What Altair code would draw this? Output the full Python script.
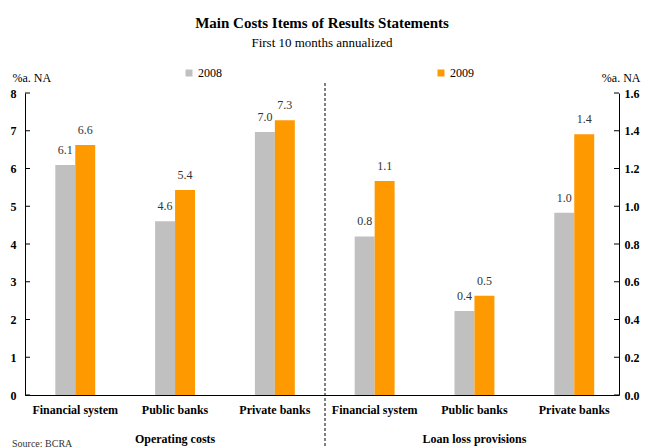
import altair as alt
import pandas as pd

# ---- data ----
categories = ["Financial system", "Public banks", "Private banks"]
groups = ["Operating costs", "Loan loss provisions"]
years = ["2008", "2009"]
op_2008 = [6.09, 4.60, 6.97]
op_2009 = [6.62, 5.43, 7.28]
llp_2008 = [0.84, 0.445, 0.966]
llp_2009 = [1.134, 0.526, 1.381]
left_ticks = [0, 1, 2, 3, 4, 5, 6, 7, 8]
right_ticks = [0.0, 0.2, 0.4, 0.6, 0.8, 1.0, 1.2, 1.4, 1.6]
colors = ["#C0C0C0", "#FF9900"]
y_unit = "%a. NA"
title_text = "Main Costs Items of Results Statements"
subtitle_text = "First 10 months annualized"
source_text = "Source: BCRA"

W, H = 594, 302
FONT = "Liberation Serif"

rows = []
for g, s08, s09 in [(groups[0], op_2008, op_2009), (groups[1], llp_2008, llp_2009)]:
    for c, a, b in zip(categories, s08, s09):
        key = f"{g}|{c}"
        rows.append({"group": g, "key": key, "year": years[0], "value": a})
        rows.append({"group": g, "key": key, "year": years[1], "value": b})
df = pd.DataFrame(rows)
keys = [f"{g}|{c}" for g in groups for c in categories]
df_left = df[df.group == groups[0]]
df_right = df[df.group == groups[1]]

x_enc = alt.X(
    "key:N", sort=keys,
    scale=alt.Scale(domain=keys, paddingInner=0.6, paddingOuter=0.276, align=0.55),
    axis=alt.Axis(title=None, labelExpr="split(datum.value, '|')[1]", labelAngle=0,
                  labelFont=FONT, labelFontWeight="bold", labelFontSize=12,
                  labelColor="black", ticks=False, domainColor="black",
                  labelPadding=9, grid=False),
)
xoff = alt.XOffset("year:N", scale=alt.Scale(domain=years, paddingInner=0, paddingOuter=0))
color_enc = alt.Color(
    "year:N", scale=alt.Scale(domain=years, range=colors),
    legend=alt.Legend(title=None, orient="none", direction="horizontal",
                      legendX=158, legendY=-26, symbolType="square", symbolSize=49,
                      symbolStrokeWidth=0, labelFont=FONT, labelFontSize=12,
                      labelColor="black", columnPadding=213, padding=0, labelOffset=3),
)


def y_axis(orient, values, fmt, title_x, align, pad):
    return alt.Axis(orient=orient, values=values, format=fmt, title=y_unit, titleAngle=0,
                    titleAlign=align, titleX=title_x, titleY=-9, titleFont=FONT,
                    titleFontWeight="normal", titleFontSize=12, titleColor="black",
                    labelFont=FONT, labelFontWeight="bold", labelFontSize=12,
                    labelColor="black", tickSize=0, labelPadding=pad, grid=False,
                    domainColor="black")


axisL = y_axis("left", left_ticks, "d", -13, "left", 9)
axisR = y_axis("right", right_ticks, ".1f", 21, "right", 5)
scaleL = alt.Scale(domain=[0, 8], nice=False)
scaleR = alt.Scale(domain=[0, 1.6], nice=False)


def panel(data, scale, axis, ticks, tick_x):
    bars = alt.Chart(data).mark_bar().encode(
        x=x_enc, xOffset=xoff, y=alt.Y("value:Q", scale=scale, axis=axis), color=color_enc)
    labels = alt.Chart(data).mark_text(font=FONT, fontSize=12, color="#333333", dy=-8,
                                       baseline="bottom").encode(
        x=x_enc, xOffset=xoff, y=alt.Y("value:Q", scale=scale, axis=axis),
        text=alt.Text("value:Q", format=".1f"))
    tick_rules = alt.Chart(pd.DataFrame({"value": ticks})).mark_rule(
        color="black", strokeWidth=1).encode(
        y=alt.Y("value:Q", scale=scale, axis=axis),
        x=alt.value(tick_x[0]), x2=alt.value(tick_x[1]))
    return alt.layer(bars, labels, tick_rules)


left = panel(df_left, scaleL, axisL, left_ticks, (0, 5))
right = panel(df_right, scaleR, axisR, right_ticks, (W - 5, W))

group_df = pd.DataFrame({"key": [f"{groups[0]}|{categories[1]}", f"{groups[1]}|{categories[1]}"],
                         "label": groups})
group_labels = alt.Chart(group_df).mark_text(font=FONT, fontSize=12, fontWeight="bold",
                                             color="black").encode(
    x=x_enc, y=alt.value(H + 44), text="label:N")

divider = alt.Chart(pd.DataFrame({"d": [0]})).mark_rule(
    color="black", strokeDash=[3, 2], strokeWidth=1).encode(
    x=alt.value(W / 2 + 3), y=alt.value(-10), y2=alt.value(H + 60))

source = alt.Chart(pd.DataFrame({"d": [0]})).mark_text(
    text=source_text, font=FONT, fontSize=10, color="#333333", align="left").encode(
    x=alt.value(-13), y=alt.value(H + 49))

chart = alt.layer(left, right, group_labels, divider, source).resolve_scale(
    y="independent"
).properties(
    width=W, height=H,
    autosize=alt.AutoSizeParams(type="none"),
    padding={"left": 17, "top": 85, "right": 22, "bottom": 55},
    title=alt.Title(text=title_text, subtitle=subtitle_text, font=FONT, fontSize=15,
                    fontWeight="bold", color="black", subtitleFont=FONT,
                    subtitleFontSize=13, subtitleColor="black", anchor="middle",
                    offset=17, subtitlePadding=6),
).configure_view(stroke=None)

chart.save("out.html", embed_options={"renderer": "svg", "actions": False})
